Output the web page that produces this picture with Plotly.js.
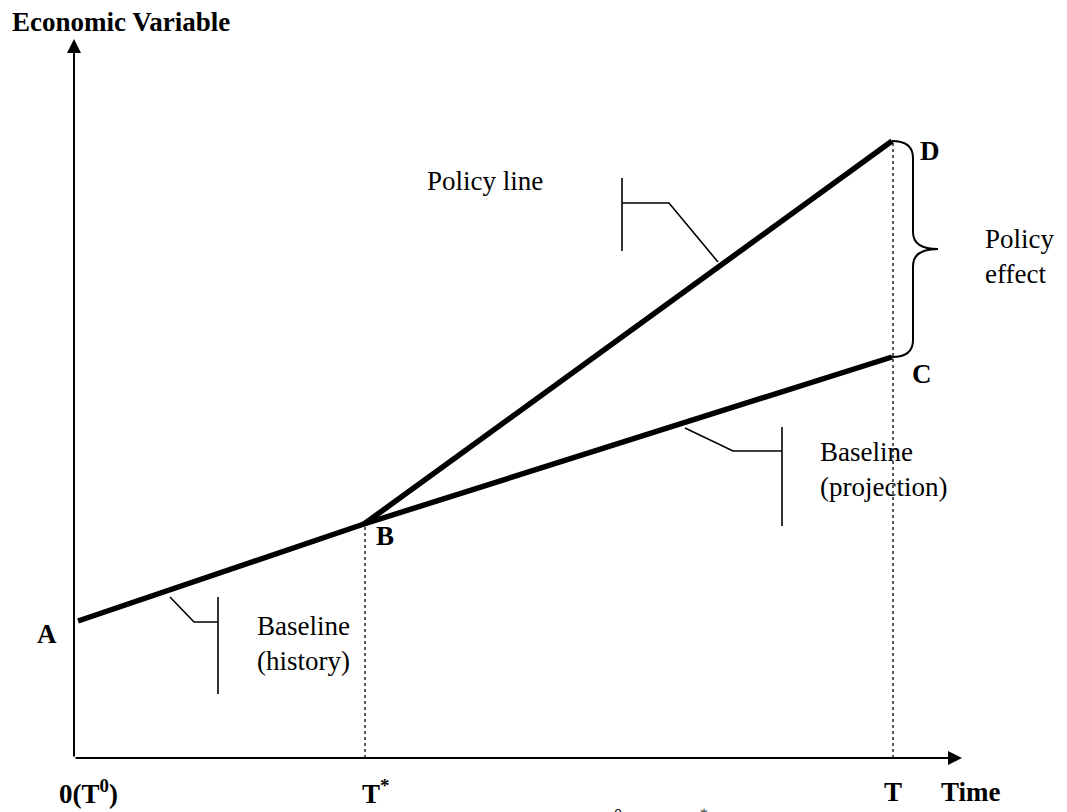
<!DOCTYPE html>
<html>
<head>
<meta charset="utf-8">
<script src="https://cdn.plot.ly/plotly-3.0.1.min.js"></script>
<style>html,body{margin:0;padding:0;background:#fff;}#chart{width:1067px;height:812px;}</style>
</head>
<body>
<div id="chart"></div>
<script>
// Points of the diagram (time, economic variable)
const pointLabels = ["A", "B", "C", "D"];
const baselineTime = [4, 290, 818];      // A, B (T*), C (T)
const baselineValue = [137, 234, 401];
const policyTime = [290, 818];            // B, D
const policyValue = [234, 617];
const tStar = 291;
const tEnd = 819;
const xTickLabels = ["<b>0(T<sup>0</sup>)</b>", "<b>T<sup>*</sup></b>", "<b>T</b>"];
const xTickPos = [14, 301, 819];

// leader (callout) lines: [x...], [y...] with null breaks
const leaderX = [548, 548, null, 548, 595, 644, null, 611, 659, 708, null, 708, 708, null, 96, 120, 144, null, 144, 144];
const leaderY = [580, 507, null, 555, 555, 496, null, 330, 307, 307, null, 331, 232, null, 161, 136, 136, null, 161, 64];

const FONT = "Liberation Serif, Times New Roman, serif";
const FS = 27;

const traces = [
  { x: baselineTime, y: baselineValue, mode: "lines", line: {color: "#000", width: 5.5}, hoverinfo: "skip" },
  { x: policyTime, y: policyValue, mode: "lines", line: {color: "#000", width: 5.5}, hoverinfo: "skip" },
  { x: [tStar, tStar], y: [0, baselineValue[1] - 3], mode: "lines", line: {color: "#000", width: 1.3, dash: "dot"}, hoverinfo: "skip" },
  { x: [tEnd, tEnd], y: [0, policyValue[1]], mode: "lines", line: {color: "#000", width: 1.3, dash: "dot"}, hoverinfo: "skip" },
  { x: leaderX, y: leaderY, mode: "lines", line: {color: "#000", width: 1.6}, hoverinfo: "skip", connectgaps: false }
];

// curly brace between C and D
const bTop = policyValue[1], bBot = baselineValue[2], bMid = (bTop + bBot) / 2;
const bx = tEnd - 1, bw = 21, tip = 46, r = 17;
const bracePath = `M ${bx},${bTop} Q ${bx+bw},${bTop} ${bx+bw},${bTop-r} L ${bx+bw},${bMid+r} Q ${bx+bw},${bMid} ${bx+tip},${bMid} ` +
  `Q ${bx+bw},${bMid} ${bx+bw},${bMid-r} L ${bx+bw},${bBot+r} Q ${bx+bw},${bBot} ${bx},${bBot}`;

function txt(text, x, y, opts) {
  return Object.assign({ text: text, x: x, y: y, xref: "x", yref: "y", showarrow: false,
    font: {family: FONT, size: FS, color: "#000"}, xanchor: "center", yanchor: "middle", align: "left" }, opts || {});
}

const annotations = [
  // axes with arrowheads
  { x: 888, y: 0, ax: 0, ay: 0, xref: "x", yref: "y", axref: "x", ayref: "y", showarrow: true,
    arrowhead: 2, arrowsize: 1.4, arrowwidth: 2, arrowcolor: "#000", standoff: 0, text: "" },
  { x: 0, y: 719, ax: 0, ay: 0, xref: "x", yref: "y", axref: "x", ayref: "y", showarrow: true,
    arrowhead: 2, arrowsize: 1.4, arrowwidth: 2, arrowcolor: "#000", standoff: 0, text: "" },
  txt("<b>Economic Variable</b>", -64, 736, {xanchor: "left"}),
  txt("<b>" + pointLabels[0] + "</b>", -27, 124),
  txt("<b>" + pointLabels[1] + "</b>", 311, 222),
  txt("<b>" + pointLabels[2] + "</b>", 848, 384),
  txt("<b>" + pointLabels[3] + "</b>", 856, 607),
  txt("Policy line", 351, 577, {xanchor: "left"}),
  txt("Policy<br>effect", 909, 502, {xanchor: "left"}),
  txt("Baseline<br>(projection)", 744, 289, {xanchor: "left"}),
  txt("Baseline<br>(history)", 181, 115, {xanchor: "left"}),
  txt(xTickLabels[0], xTickPos[0], -34),
  txt(xTickLabels[1], xTickPos[1], -34),
  txt(xTickLabels[2], xTickPos[2], -34),
  txt("<b>Time</b>", 865, -34, {xanchor: "left"}),
  txt("0", 544, -46, {yanchor: "top", font: {family: FONT, size: 16, color: "#000"}}),
  txt("*", 630, -46, {yanchor: "top", font: {family: FONT, size: 16, color: "#000"}})
];

const layout = {
  width: 1067, height: 812,
  margin: {l: 0, r: 0, t: 0, b: 0, pad: 0},
  paper_bgcolor: "#fff", plot_bgcolor: "#fff",
  showlegend: false,
  xaxis: {range: [-74, 993], visible: false, fixedrange: true},
  yaxis: {range: [-54, 758], visible: false, fixedrange: true},
  shapes: [{ type: "path", path: bracePath, xref: "x", yref: "y", line: {color: "#000", width: 2} }],
  annotations: annotations
};

Plotly.newPlot("chart", traces, layout, {staticPlot: true, displayModeBar: false});
</script>
</body>
</html>
